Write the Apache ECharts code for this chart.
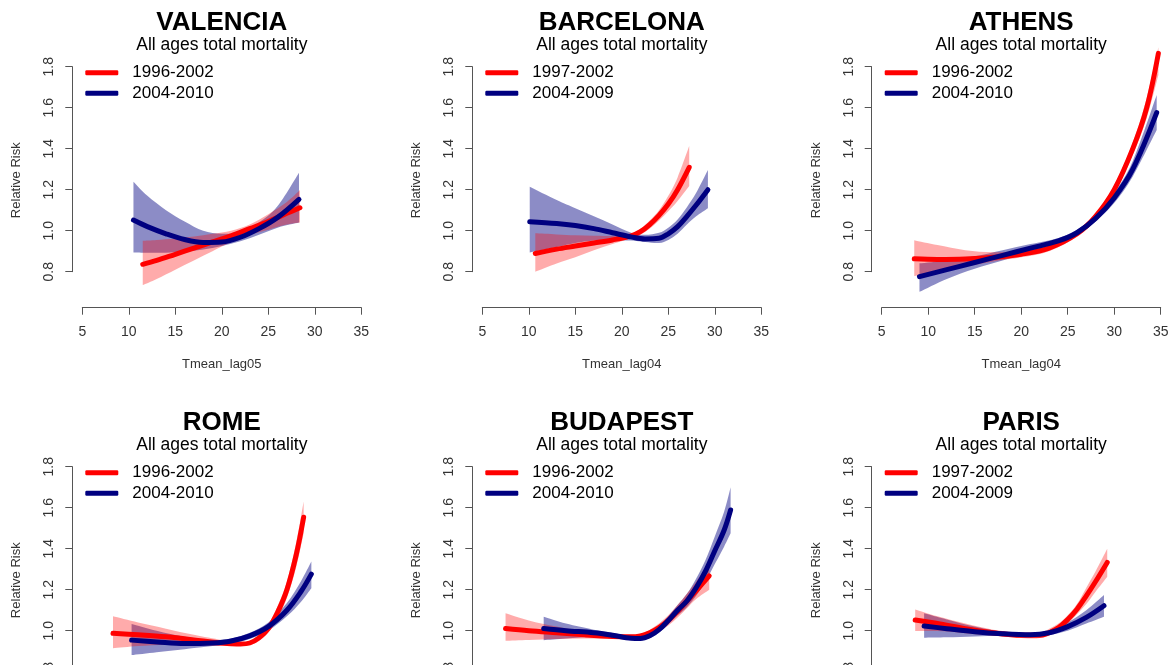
<!DOCTYPE html>
<html>
<head>
<meta charset="utf-8">
<script src="https://cdn.jsdelivr.net/npm/echarts@6/dist/echarts.min.js"></script>
<style>
  html, body { margin: 0; padding: 0; background: #fff; }
  #main { width: 1168px; height: 665px; }
</style>
</head>
<body>
<div id="main"></div>
<script>
// ---- values (relative risk vs mean temperature) ----

// VALENCIA
var valenciaX1  = [11.5, 13, 15, 17, 19, 21, 23, 25, 27, 28.4];
var valenciaRR1 = [0.836, 0.855, 0.885, 0.915, 0.945, 0.975, 1.01, 1.045, 1.085, 1.112];
var valenciaLo1 = [0.735, 0.765, 0.81, 0.855, 0.9, 0.945, 0.98, 1.005, 1.03, 1.04];
var valenciaHi1 = [0.951, 0.955, 0.962, 0.972, 0.985, 1.0, 1.03, 1.08, 1.14, 1.198];
var valenciaX2  = [10.5, 12, 14, 16, 18, 20, 22, 24, 26, 28.3];
var valenciaRR2 = [1.052, 1.02, 0.985, 0.957, 0.943, 0.945, 0.968, 1.01, 1.065, 1.153];
var valenciaLo2 = [0.894, 0.893, 0.893, 0.898, 0.908, 0.925, 0.948, 0.98, 1.015, 1.04];
var valenciaHi2 = [1.239, 1.17, 1.10, 1.045, 1.0, 0.985, 0.995, 1.04, 1.12, 1.283];

// BARCELONA
var barcelonaX1  = [10.7, 13, 15, 17, 19, 21, 22, 23, 24, 25, 26, 27.25];
var barcelonaRR1 = [0.889, 0.91, 0.925, 0.94, 0.955, 0.975, 0.995, 1.03, 1.075, 1.13, 1.20, 1.309];
var barcelonaLo1 = [0.80, 0.84, 0.87, 0.905, 0.935, 0.963, 0.98, 1.01, 1.05, 1.095, 1.145, 1.218];
var barcelonaHi1 = [0.987, 0.982, 0.978, 0.975, 0.975, 0.985, 1.01, 1.05, 1.10, 1.17, 1.26, 1.413];
var barcelonaX2  = [10.1, 13, 15, 17, 19, 21, 22.5, 24, 25, 26, 27, 28, 29.26];
var barcelonaRR2 = [1.044, 1.035, 1.025, 1.01, 0.99, 0.97, 0.96, 0.963, 0.985, 1.02, 1.07, 1.125, 1.20];
var barcelonaLo2 = [0.894, 0.92, 0.94, 0.952, 0.955, 0.952, 0.945, 0.94, 0.955, 0.985, 1.03, 1.07, 1.109];
var barcelonaHi2 = [1.215, 1.15, 1.11, 1.07, 1.03, 0.99, 0.98, 0.99, 1.015, 1.055, 1.115, 1.185, 1.296];

// ATHENS
var athensX1  = [8.5, 11, 14, 17, 20, 23, 26, 28, 30, 32, 33.5, 34.75];
var athensRR1 = [0.863, 0.86, 0.862, 0.87, 0.885, 0.915, 0.985, 1.07, 1.20, 1.40, 1.60, 1.865];
var athensLo1 = [0.779, 0.80, 0.825, 0.85, 0.87, 0.9, 0.97, 1.055, 1.18, 1.37, 1.55, 1.76];
var athensHi1 = [0.954, 0.93, 0.905, 0.895, 0.9, 0.93, 1.0, 1.085, 1.22, 1.43, 1.65, 1.895];
var athensX2  = [9.06, 12, 15, 18, 21, 24, 26, 28, 30, 32, 34.57];
var athensRR2 = [0.776, 0.81, 0.845, 0.88, 0.915, 0.95, 0.99, 1.06, 1.16, 1.30, 1.576];
var athensLo2 = [0.702, 0.765, 0.815, 0.855, 0.895, 0.935, 0.975, 1.045, 1.135, 1.265, 1.491];
var athensHi2 = [0.841, 0.855, 0.875, 0.905, 0.935, 0.965, 1.005, 1.075, 1.185, 1.34, 1.662];

// ROME
var romeX1  = [8.3, 11, 14, 17, 20, 22, 23, 24, 25, 26, 27, 28, 28.8];
var romeRR1 = [0.987, 0.98, 0.97, 0.955, 0.94, 0.935, 0.94, 0.965, 1.01, 1.09, 1.20, 1.37, 1.553];
var romeLo1 = [0.914, 0.925, 0.932, 0.932, 0.925, 0.925, 0.93, 0.95, 0.99, 1.06, 1.16, 1.31, 1.475];
var romeHi1 = [1.07, 1.04, 1.01, 0.98, 0.955, 0.945, 0.95, 0.98, 1.03, 1.12, 1.24, 1.43, 1.63];
var romeX2  = [10.3, 13, 16, 19, 21, 23, 25, 27, 28.5, 29.63];
var romeRR2 = [0.954, 0.945, 0.937, 0.94, 0.95, 0.975, 1.02, 1.10, 1.19, 1.276];
var romeLo2 = [0.881, 0.895, 0.91, 0.925, 0.938, 0.96, 1.0, 1.07, 1.14, 1.207];
var romeHi2 = [1.033, 1.0, 0.97, 0.955, 0.962, 0.99, 1.04, 1.135, 1.24, 1.337];

// BUDAPEST
var budapestX1  = [7.5, 10, 13, 16, 19, 21, 22, 23, 24, 25, 26, 27, 28, 29.4];
var budapestRR1 = [1.011, 1.0, 0.99, 0.98, 0.972, 0.97, 0.975, 0.99, 1.015, 1.05, 1.095, 1.145, 1.195, 1.267];
var budapestLo1 = [0.951, 0.955, 0.96, 0.962, 0.962, 0.96, 0.965, 0.977, 0.995, 1.025, 1.065, 1.11, 1.155, 1.20];
var budapestHi1 = [1.085, 1.05, 1.02, 0.995, 0.982, 0.98, 0.985, 1.005, 1.035, 1.075, 1.125, 1.18, 1.24, 1.33];
var budapestX2  = [11.6, 14, 17, 19, 21, 22, 23, 24, 25, 26, 27, 28, 29, 30, 31, 31.7];
var budapestRR2 = [1.011, 1.0, 0.99, 0.978, 0.963, 0.962, 0.975, 1.005, 1.05, 1.10, 1.145, 1.21, 1.29, 1.39, 1.49, 1.589];
var budapestLo2 = [0.954, 0.962, 0.97, 0.965, 0.955, 0.953, 0.963, 0.99, 1.03, 1.075, 1.115, 1.17, 1.24, 1.325, 1.41, 1.475];
var budapestHi2 = [1.068, 1.035, 1.005, 0.99, 0.972, 0.972, 0.987, 1.02, 1.07, 1.125, 1.18, 1.255, 1.345, 1.46, 1.58, 1.70];

// PARIS
var parisX1  = [8.6, 11, 14, 17, 20, 22, 24, 25, 26, 27, 28, 29.25];
var parisRR1 = [1.052, 1.035, 1.01, 0.99, 0.978, 0.978, 1.015, 1.055, 1.105, 1.17, 1.24, 1.333];
var parisLo1 = [0.998, 0.998, 0.988, 0.975, 0.965, 0.965, 1.0, 1.035, 1.08, 1.13, 1.19, 1.263];
var parisHi1 = [1.104, 1.07, 1.035, 1.005, 0.99, 0.99, 1.035, 1.075, 1.13, 1.21, 1.29, 1.40];
var parisX2  = [9.56, 12, 15, 18, 21, 23, 25, 27, 28.9];
var parisRR2 = [1.023, 1.01, 0.995, 0.985, 0.98, 0.99, 1.02, 1.065, 1.122];
var parisLo2 = [0.966, 0.968, 0.972, 0.975, 0.97, 0.978, 1.0, 1.035, 1.068];
var parisHi2 = [1.085, 1.055, 1.02, 0.995, 0.99, 1.0, 1.04, 1.1, 1.174];

var cities  = ['VALENCIA', 'BARCELONA', 'ATHENS', 'ROME', 'BUDAPEST', 'PARIS'];
var xNames  = ['Tmean_lag05', 'Tmean_lag04', 'Tmean_lag04', 'Tmean_lag04', 'Tmean_lag04', 'Tmean_lag04'];
var period1 = ['1996-2002', '1997-2002', '1996-2002', '1996-2002', '1996-2002', '1997-2002'];
var period2 = ['2004-2010', '2004-2009', '2004-2010', '2004-2010', '2004-2010', '2004-2009'];
var xTicks  = [5, 35, 5];          // min, max, step
var yTicks  = [0.8, 1.8, 0.2];

var curves = [
  [[valenciaX1, valenciaRR1, valenciaLo1, valenciaHi1], [valenciaX2, valenciaRR2, valenciaLo2, valenciaHi2]],
  [[barcelonaX1, barcelonaRR1, barcelonaLo1, barcelonaHi1], [barcelonaX2, barcelonaRR2, barcelonaLo2, barcelonaHi2]],
  [[athensX1, athensRR1, athensLo1, athensHi1], [athensX2, athensRR2, athensLo2, athensHi2]],
  [[romeX1, romeRR1, romeLo1, romeHi1], [romeX2, romeRR2, romeLo2, romeHi2]],
  [[budapestX1, budapestRR1, budapestLo1, budapestHi1], [budapestX2, budapestRR2, budapestLo2, budapestHi2]],
  [[parisX1, parisRR1, parisLo1, parisHi1], [parisX2, parisRR2, parisLo2, parisHi2]]
];

// ---- layout ----
var FONT = '"Liberation Sans", Arial, sans-serif';
var colLeft = [82.3, 482.3, 881.7];
var rowTop = [66.7, 466.7];
var plotW = 279, plotH = 205;
var RED = '#ff0000', BLUE = '#000080';
var RED_BAND = 'rgba(255,0,0,0.33)', BLUE_BAND = 'rgba(0,0,128,0.45)';

// catmull-rom style bezier through already projected pixel points
function curveTo(p) {
  var s = '';
  for (var i = 0; i < p.length - 1; i++) {
    var p0 = p[i - 1] || p[i], p1 = p[i], p2 = p[i + 1], p3 = p[i + 2] || p2;
    var c1x = p1[0] + (p2[0] - p0[0]) / 6, c1y = p1[1] + (p2[1] - p0[1]) / 6;
    var c2x = p2[0] - (p3[0] - p1[0]) / 6, c2y = p2[1] - (p3[1] - p1[1]) / 6;
    s += ' C' + c1x + ',' + c1y + ' ' + c2x + ',' + c2y + ' ' + p2[0] + ',' + p2[1];
  }
  return s;
}

function band(idx, c, color) {
  var x = c[0], lo = c[2], hi = c[3];
  return {
    type: 'custom', xAxisIndex: idx, yAxisIndex: idx, clip: false, silent: true, z: 2,
    data: [[x[0], lo[0]]],
    renderItem: function (params, api) {
      var top = x.map(function (v, i) { return api.coord([v, hi[i]]); });
      var bot = x.map(function (v, i) { return api.coord([v, lo[i]]); }).reverse();
      var d = 'M' + top[0][0] + ',' + top[0][1] + curveTo(top) +
              ' L' + bot[0][0] + ',' + bot[0][1] + curveTo(bot) + ' Z';
      return { type: 'path', shape: { pathData: d }, style: { fill: color } };
    }
  };
}

function line(idx, c, name, color) {
  return {
    type: 'line', name: name, xAxisIndex: idx, yAxisIndex: idx, clip: false, z: 3,
    data: c[0].map(function (v, i) { return [v, c[1][i]]; }),
    smooth: 0.35, symbol: 'none', color: color,
    lineStyle: { width: 5, color: color, cap: 'round', join: 'round' }
  };
}

var grids = [], xAxes = [], yAxes = [], titles = [], legends = [], series = [];

cities.forEach(function (city, i) {
  var left = colLeft[i % 3], top = rowTop[Math.floor(i / 3)];
  var mid = left + plotW / 2;
  grids.push({ left: left, top: top, width: plotW, height: plotH, outerBoundsMode: 'none' });

  xAxes.push({
    gridIndex: i, type: 'value', min: xTicks[0], max: xTicks[1], interval: xTicks[2],
    position: 'bottom', offset: 36,
    name: xNames[i], nameLocation: 'middle', nameGap: 50,
    nameTextStyle: { fontSize: 13, color: '#333', fontFamily: FONT },
    axisLine: { lineStyle: { color: '#555', width: 1 } },
    axisTick: { length: 7, lineStyle: { color: '#555' } },
    axisLabel: { fontSize: 14, color: '#333', margin: 17, fontFamily: FONT },
    splitLine: { show: false }
  });

  yAxes.push({
    gridIndex: i, type: 'value', min: yTicks[0], max: yTicks[1], interval: yTicks[2],
    position: 'left', offset: 10,
    name: 'Relative Risk', nameLocation: 'middle', nameGap: 49,
    nameTextStyle: { fontSize: 13, color: '#333', fontFamily: FONT, padding: [0, 22, 0, 0] },
    axisLine: { show: true, lineStyle: { color: '#555', width: 1 } },
    axisTick: { show: true, length: 7, lineStyle: { color: '#555' } },
    axisLabel: {
      rotate: 90, fontSize: 14, color: '#333', margin: 16, fontFamily: FONT,
      formatter: function (v) { return v.toFixed(1); }
    },
    splitLine: { show: false }
  });

  titles.push({
    text: city, subtext: 'All ages total mortality',
    left: mid, top: top - 56.5, textAlign: 'center', padding: 0, itemGap: 0,
    textStyle: { fontSize: 26, fontWeight: 'bold', color: '#000', fontFamily: FONT },
    subtextStyle: { fontSize: 17.5, color: '#000', fontFamily: FONT }
  });

  legends.push({
    data: [period1[i], period2[i]], orient: 'vertical',
    left: left + 3, top: top - 2.5, padding: 0, itemGap: 3.6,
    icon: 'roundRect', itemWidth: 33, itemHeight: 5,
    itemStyle: { borderWidth: 0 },
    selectedMode: false,
    textStyle: { fontSize: 17, color: '#000', fontFamily: FONT, lineHeight: 17, padding: [0, 0, 0, 9] }
  });

  series.push(band(i, curves[i][1], BLUE_BAND));
  series.push(band(i, curves[i][0], RED_BAND));
  series.push(line(i, curves[i][0], period1[i], RED));
  series.push(line(i, curves[i][1], period2[i], BLUE));
});

var myChart = echarts.init(document.getElementById('main'), null, { renderer: 'canvas' });
myChart.setOption({
  backgroundColor: '#fff',
  animation: false,
  textStyle: { fontFamily: FONT },
  title: titles,
  legend: legends,
  tooltip: { show: false },
  grid: grids,
  xAxis: xAxes,
  yAxis: yAxes,
  series: series
});
</script>
</body>
</html>
